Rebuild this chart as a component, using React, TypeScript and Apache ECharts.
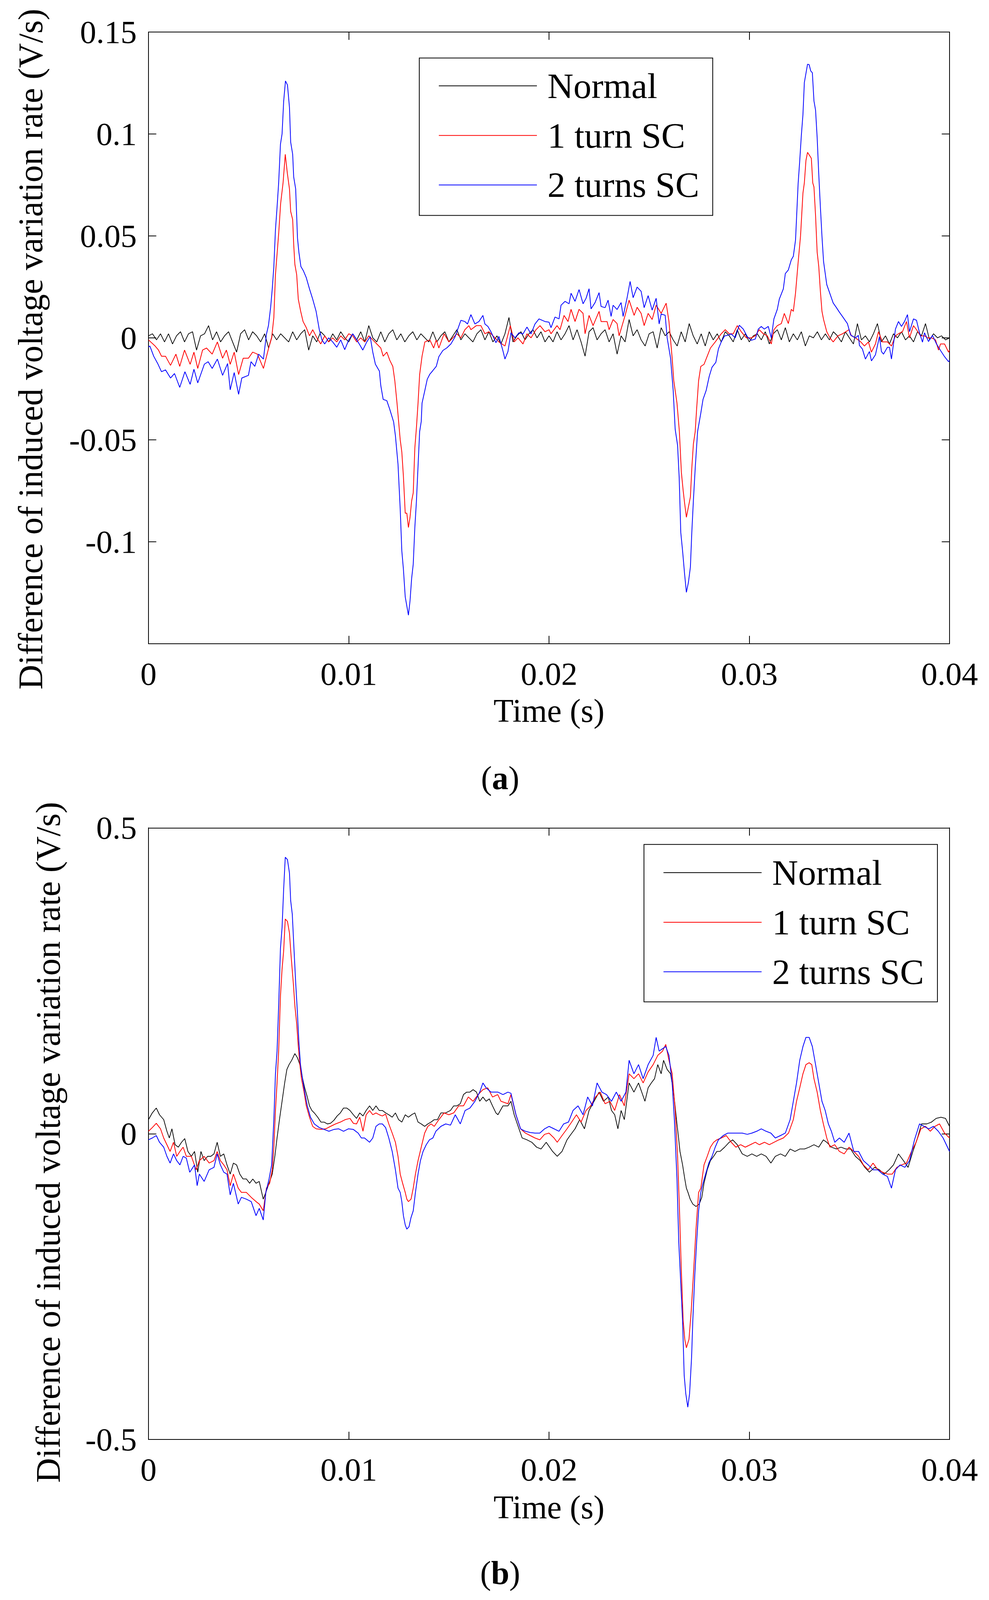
import React, { useEffect, useRef } from "react";
import * as echarts from "echarts";

const W = 2531;
const H = 4248;
const FONT = "'Liberation Serif', 'Times New Roman', serif";

const seriesNames = ["Normal", "1 turn SC", "2 turns SC"];
const seriesColors = ["#000000", "#ff0000", "#0000ff"];
const xTicks = [0, 0.01, 0.02, 0.03, 0.04];
const topYRange = [-0.15, 0.15, 0.05];
const bottomYRange = [-0.5, 0.5, 0.5];

// (a) Normal, sampled every 0.2 ms from 0 to 40 ms
const normalStepMs = 0.2;
const topNormal = [
  0.001, 0.002, -0.001, 0.002, -0.002, 0.002, -0.003, 0.001, 0.003, -0.002,
  0.002, 0.003, -0.006, 0.001, 0.002, 0.006, -0.001, 0.003, -0.002, 0.001,
  0.003, -0.002, -0.007, 0.002, 0.004, -0.001, 0.003, 0.001, -0.002, 0.002,
  -0.005, 0.002, -0.001, 0.002, 0.0, -0.002, 0.003, -0.001, 0.002, 0.004,
  -0.006, 0.001, -0.002, 0.003, 0.001, -0.002, 0.002, -0.001, 0.003, 0.0,
  -0.002, 0.002, -0.001, 0.003, -0.002, 0.006, 0.0, -0.002, 0.003, -0.002,
  0.002, 0.004, -0.001, 0.002, -0.002, 0.001, 0.003, -0.001, 0.002, 0.0,
  -0.002, 0.003, -0.002, 0.001, 0.003, -0.002, 0.001, 0.004, -0.001, 0.002,
  0.0, -0.002, 0.002, 0.004, -0.001, 0.003, -0.002, 0.001, -0.003, 0.002,
  0.01, -0.002, 0.001, 0.003, -0.001, 0.002, 0.004, 0.0, 0.003, -0.002,
  0.001, -0.002, 0.003, -0.001, 0.002, 0.006, -0.001, 0.004, -0.002, -0.009,
  0.003, 0.005, -0.001, 0.002, 0.004, -0.002, 0.002, -0.008, 0.001, -0.002,
  0.009, 0.001, 0.004, -0.001, -0.004, 0.002, 0.003, -0.005, 0.005, 0.001,
  0.003, -0.001, -0.004, 0.003, -0.002, 0.007, 0.001, -0.003, 0.002, -0.004,
  0.003, -0.001, 0.002, -0.002, 0.003, 0.001, -0.002, 0.004, -0.001, 0.002,
  -0.002, 0.001, 0.002, -0.001, 0.003, -0.003, 0.002, 0.004, -0.001, 0.005,
  -0.002, 0.002, -0.001, 0.003, -0.004, 0.001, 0.0, 0.003, -0.001, 0.002,
  -0.001, 0.003, 0.001, -0.002, 0.003, 0.0, -0.003, 0.007, -0.001, 0.001,
  -0.002, 0.002, 0.007, -0.002, 0.001, -0.003, 0.002, 0.0, 0.003, -0.001,
  0.001, -0.002, 0.003, 0.001, 0.007, -0.001, 0.002, 0.0, 0.001, -0.001,
  0.0,
];

// (a) 1 turn SC, [time ms, value]
const topOneTurn = [
  [0, -0.001], [0.33, -0.004], [0.5, -0.006], [0.65, -0.009], [0.85, -0.009], [1.1, -0.0135],
  [1.37, -0.008], [1.56, -0.014], [1.8, -0.006], [2.08, -0.013], [2.27, -0.007], [2.46, -0.015],
  [2.7, -0.006], [2.9, -0.005], [3.18, -0.008], [3.44, -0.002], [3.7, -0.01], [3.89, -0.006],
  [4.08, -0.013], [4.28, -0.007], [4.5, -0.018], [4.73, -0.01], [4.99, -0.01], [5.2, -0.007],
  [5.44, -0.008], [5.74, -0.015], [6.0, -0.005], [6.15, 0.0], [6.26, 0.01], [6.34, 0.031],
  [6.5, 0.051], [6.6, 0.066], [6.72, 0.076], [6.83, 0.09], [6.93, 0.081], [7.04, 0.073],
  [7.1, 0.062], [7.2, 0.058], [7.25, 0.046], [7.31, 0.036], [7.4, 0.031], [7.48, 0.019],
  [7.6, 0.013], [7.72, 0.008], [7.88, 0.005], [8.04, 0.001], [8.2, 0.004], [8.41, 0.0],
  [8.6, -0.003], [8.8, 0.001], [9.0, -0.002], [9.2, 0.0], [9.4, -0.002], [9.6, 0.001],
  [9.8, -0.001], [10.0, 0.002], [10.2, 0.001], [10.4, -0.002], [10.6, 0.0], [10.8, -0.002],
  [11.0, 0.001], [11.2, -0.001], [11.4, -0.003], [11.6, -0.005], [11.72, -0.009], [11.9, -0.007],
  [12.05, -0.011], [12.2, -0.014], [12.3, -0.021], [12.41, -0.032], [12.57, -0.05], [12.65, -0.056],
  [12.73, -0.068], [12.82, -0.086], [12.9, -0.086], [12.98, -0.093], [13.06, -0.088], [13.14, -0.08],
  [13.22, -0.076], [13.3, -0.054], [13.38, -0.044], [13.46, -0.032], [13.54, -0.018], [13.66, -0.009],
  [13.8, -0.002], [14.05, -0.001], [14.24, -0.005], [14.37, -0.001], [14.5, -0.005], [14.76, 0.002],
  [15.0, -0.002], [15.2, 0.0], [15.4, 0.002], [15.6, 0.0], [15.8, 0.004], [16.0, 0.006],
  [16.1, 0.004], [16.37, 0.006], [16.6, 0.006], [16.8, 0.002], [17.0, 0.003], [17.3, 0.0],
  [17.5, -0.002], [17.8, -0.004], [18.07, 0.006], [18.26, -0.002], [18.45, 0.0], [18.7, -0.003],
  [18.9, 0.002], [19.1, 0.0], [19.35, 0.004], [19.55, 0.006], [19.8, 0.003], [20.0, 0.004],
  [20.1, 0.002], [20.4, 0.006], [20.55, 0.004], [20.75, 0.011], [20.95, 0.008], [21.1, 0.014],
  [21.3, 0.008], [21.5, 0.014], [21.7, 0.012], [21.8, 0.002], [22.0, 0.011], [22.2, 0.006],
  [22.5, 0.013], [22.6, 0.008], [22.9, 0.008], [23.0, 0.004], [23.2, 0.009], [23.4, 0.007],
  [23.5, 0.001], [23.8, 0.011], [24.0, 0.0185], [24.25, 0.011], [24.4, 0.015], [24.6, 0.012],
  [24.75, 0.006], [24.95, 0.012], [25.15, 0.009], [25.35, 0.016], [25.6, 0.012], [25.85, 0.017],
  [25.99, 0.008], [26.15, -0.01], [26.23, -0.021], [26.39, -0.032], [26.51, -0.046], [26.61, -0.066],
  [26.7, -0.075], [26.77, -0.081], [26.86, -0.088], [26.96, -0.083], [27.06, -0.078], [27.13, -0.064],
  [27.21, -0.052], [27.3, -0.046], [27.37, -0.035], [27.47, -0.021], [27.58, -0.014], [27.74, -0.013],
  [27.9, -0.009], [28.06, -0.005], [28.3, -0.002], [28.6, 0.002], [28.8, 0.004], [29.0, 0.002],
  [29.2, 0.002], [29.4, 0.006], [29.6, 0.003], [29.85, 0.0], [30.1, 0.0], [30.3, 0.001],
  [30.5, 0.004], [30.7, 0.002], [30.9, 0.001], [31.1, -0.003], [31.23, 0.004], [31.4, 0.006],
  [31.6, 0.007], [31.75, 0.012], [31.95, 0.007], [32.1, 0.014], [32.2, 0.013], [32.31, 0.022],
  [32.44, 0.037], [32.56, 0.05], [32.68, 0.071], [32.75, 0.076], [32.83, 0.087], [32.91, 0.091],
  [33.04, 0.089], [33.1, 0.088], [33.17, 0.076], [33.23, 0.074], [33.31, 0.06], [33.39, 0.042],
  [33.47, 0.035], [33.55, 0.023], [33.63, 0.013], [33.71, 0.009], [33.87, 0.003], [34.03, 0.0],
  [34.19, -0.002], [34.43, 0.001], [34.66, 0.002], [34.98, 0.004], [35.1, 0.001], [35.3, 0.0],
  [35.57, -0.002], [35.75, -0.004], [35.95, -0.002], [36.1, -0.007], [36.3, -0.003], [36.45, 0.003],
  [36.65, -0.002], [36.9, -0.002], [37.1, -0.004], [37.3, 0.001], [37.45, 0.002], [37.65, 0.003],
  [37.85, 0.008], [38.0, 0.0], [38.2, 0.006], [38.35, 0.004], [38.55, 0.001], [38.75, 0.001],
  [38.9, 0.0], [39.1, 0.0], [39.3, -0.001], [39.45, -0.006], [39.55, -0.003], [39.75, -0.003],
  [39.95, -0.007], [40, -0.006],
];

// (a) 2 turns SC, [time ms, value]
const topTwoTurns = [
  [0, -0.0045], [0.07, -0.004], [0.26, -0.009], [0.46, -0.0126], [0.65, -0.0166], [0.85, -0.0157],
  [1.1, -0.0197], [1.3, -0.0175], [1.56, -0.0243], [1.82, -0.0166], [2.08, -0.0228], [2.27, -0.0154],
  [2.46, -0.0221], [2.79, -0.0129], [2.98, -0.0117], [3.18, -0.015], [3.44, -0.0104], [3.7, -0.0184],
  [3.95, -0.0126], [4.08, -0.0255], [4.28, -0.017], [4.5, -0.0277], [4.66, -0.0197], [4.99, -0.0184],
  [5.12, -0.0117], [5.31, -0.014], [5.5, -0.008], [5.74, -0.0104], [5.89, 0.0018], [5.99, 0.006],
  [6.1, 0.015], [6.18, 0.024], [6.26, 0.035], [6.34, 0.053], [6.42, 0.064], [6.5, 0.076],
  [6.59, 0.095], [6.67, 0.1], [6.75, 0.116], [6.84, 0.126], [6.94, 0.124], [7.04, 0.113],
  [7.1, 0.096], [7.2, 0.09], [7.25, 0.079], [7.35, 0.073], [7.44, 0.049], [7.51, 0.042],
  [7.61, 0.035], [7.73, 0.033], [7.88, 0.0295], [8.04, 0.024], [8.2, 0.019], [8.37, 0.013],
  [8.53, 0.004], [8.66, -0.001], [8.8, -0.003], [9.0, 0.0], [9.2, -0.002], [9.4, -0.0046],
  [9.6, -0.001], [9.8, -0.0058], [10.0, -0.001], [10.2, 0.002], [10.4, -0.001], [10.55, -0.0034],
  [10.7, -0.006], [10.9, -0.002], [11.07, 0.0006], [11.2, -0.007], [11.33, -0.0129], [11.53, -0.0163],
  [11.6, -0.0234], [11.72, -0.0302], [11.9, -0.0308], [12.05, -0.0351], [12.24, -0.0412], [12.33, -0.048],
  [12.46, -0.062], [12.57, -0.084], [12.65, -0.1045], [12.73, -0.1135], [12.82, -0.127], [12.9, -0.1315],
  [12.98, -0.136], [13.06, -0.129], [13.14, -0.118], [13.22, -0.111], [13.3, -0.093], [13.38, -0.08],
  [13.46, -0.063], [13.54, -0.046], [13.62, -0.041], [13.66, -0.032], [13.8, -0.0258], [13.92, -0.0203],
  [14.05, -0.0178], [14.18, -0.0163], [14.37, -0.014], [14.5, -0.0092], [14.7, -0.0062], [14.9, -0.0049],
  [15.1, -0.003], [15.3, 0.0003], [15.6, 0.0086], [15.8, 0.008], [15.93, 0.0068], [16.1, 0.0114],
  [16.3, 0.0068], [16.5, 0.008], [16.7, 0.011], [16.8, 0.0068], [16.95, 0.0056], [17.1, 0.003],
  [17.35, -0.0024], [17.5, 0.0007], [17.7, -0.0064], [17.8, -0.0104], [17.95, -0.0067], [18.1, 0.0025],
  [18.3, 0.0], [18.5, 0.0025], [18.7, 0.0019], [18.9, 0.0053], [19.1, 0.0019], [19.3, 0.0068],
  [19.5, 0.0093], [19.8, 0.008], [20.0, 0.0077], [20.1, 0.005], [20.3, 0.0102], [20.5, 0.0093],
  [20.6, 0.016], [20.8, 0.0179], [21.0, 0.0167], [21.1, 0.0219], [21.3, 0.0179], [21.5, 0.0237],
  [21.7, 0.0167], [21.85, 0.0194], [22.0, 0.0241], [22.1, 0.0142], [22.3, 0.0173], [22.5, 0.0222],
  [22.6, 0.0154], [22.8, 0.0148], [22.95, 0.0185], [23.1, 0.0105], [23.2, 0.016], [23.4, 0.0139],
  [23.6, 0.0173], [23.7, 0.0105], [23.9, 0.0197], [24.05, 0.0277], [24.2, 0.0197], [24.4, 0.0249],
  [24.6, 0.0228], [24.75, 0.0148], [24.95, 0.0207], [25.15, 0.0136], [25.35, 0.0194], [25.5, 0.0068],
  [25.6, 0.0117], [25.8, 0.0111], [25.9, 0.0], [26.07, -0.01], [26.2, -0.0257], [26.3, -0.0448],
  [26.42, -0.0527], [26.5, -0.0685], [26.58, -0.0955], [26.67, -0.1045], [26.77, -0.1158], [26.86, -0.1248],
  [26.96, -0.12], [27.06, -0.1124], [27.13, -0.0955], [27.21, -0.0797], [27.3, -0.064], [27.42, -0.0459],
  [27.58, -0.0369], [27.69, -0.0302], [27.85, -0.0257], [28.0, -0.0189], [28.14, -0.0144], [28.33, -0.012],
  [28.46, -0.0054], [28.6, -0.002], [28.77, 0.001], [28.9, 0.0012], [29.1, 0.0019], [29.3, 0.0],
  [29.5, 0.0062], [29.7, 0.0043], [29.9, 0.0006], [30.1, -0.0012], [30.3, -0.0006], [30.45, 0.0043],
  [30.6, 0.0056], [30.75, 0.0043], [30.95, 0.0056], [31.1, 0.0], [31.23, 0.0093], [31.4, 0.014],
  [31.5, 0.019], [31.7, 0.024], [31.8, 0.0315], [31.95, 0.0333], [32.1, 0.0383], [32.2, 0.04],
  [32.31, 0.048], [32.44, 0.0757], [32.52, 0.0869], [32.6, 0.0993], [32.68, 0.1095], [32.75, 0.1252],
  [32.83, 0.1297], [32.91, 0.1342], [32.99, 0.134], [33.07, 0.1309], [33.15, 0.13], [33.23, 0.1162],
  [33.31, 0.1117], [33.39, 0.0982], [33.47, 0.0802], [33.55, 0.0644], [33.63, 0.0498], [33.71, 0.0374],
  [33.87, 0.0261], [34.03, 0.0216], [34.19, 0.0171], [34.34, 0.015], [34.5, 0.0126], [34.66, 0.0104],
  [34.9, 0.007], [35.06, 0.0014], [35.3, 0.0], [35.45, 0.0012], [35.5, -0.0037], [35.65, -0.0055],
  [35.8, -0.0104], [36.0, -0.0067], [36.1, -0.0113], [36.3, -0.0083], [36.5, 0.0006], [36.6, -0.0067],
  [36.7, -0.008], [36.9, -0.0046], [37.0, -0.0046], [37.1, -0.0104], [37.3, 0.0043], [37.45, 0.008],
  [37.6, 0.0056], [37.75, 0.008], [37.9, 0.0114], [38.0, 0.003], [38.2, 0.0093], [38.35, 0.0086],
  [38.5, 0.0025], [38.65, -0.0021], [38.75, 0.0025], [38.95, -0.0018], [39.15, 0.0012], [39.35, -0.003],
  [39.55, -0.0062], [39.75, -0.0092], [39.95, -0.0117], [40, -0.011],
];

// (b) Normal, [time ms, value]
const bottomNormal = [
  [0, 0.023], [0.19, 0.034], [0.39, 0.042], [0.55, 0.031], [0.76, 0.023], [0.92, 0.004],
  [1.04, -0.007], [1.17, 0.008], [1.33, -0.018], [1.49, -0.022], [1.65, -0.014], [1.81, -0.008],
  [1.97, -0.029], [2.14, -0.037], [2.3, -0.029], [2.46, -0.063], [2.62, -0.029], [2.78, -0.044],
  [2.95, -0.037], [3.11, -0.037], [3.27, -0.033], [3.43, -0.014], [3.59, -0.037], [3.76, -0.033],
  [3.92, -0.051], [4.08, -0.066], [4.24, -0.048], [4.4, -0.051], [4.56, -0.066], [4.72, -0.074],
  [4.89, -0.074], [5.05, -0.081], [5.21, -0.074], [5.37, -0.081], [5.53, -0.078], [5.73, -0.107],
  [5.86, -0.096], [6.02, -0.081], [6.18, -0.066], [6.31, -0.037], [6.42, -0.007], [6.54, 0.023],
  [6.67, 0.053], [6.8, 0.083], [6.91, 0.105], [7.02, 0.113], [7.15, 0.12], [7.31, 0.131],
  [7.44, 0.124], [7.56, 0.113], [7.67, 0.094], [7.8, 0.075], [7.93, 0.06], [8.04, 0.0455],
  [8.16, 0.038], [8.28, 0.034], [8.45, 0.027], [8.61, 0.019], [8.77, 0.019], [8.93, 0.016],
  [9.09, 0.017], [9.26, 0.022], [9.42, 0.029], [9.58, 0.034], [9.74, 0.042], [9.9, 0.042],
  [10.06, 0.038], [10.23, 0.031], [10.39, 0.025], [10.55, 0.034], [10.71, 0.029], [10.87, 0.038],
  [11.04, 0.0455], [11.2, 0.038], [11.36, 0.0455], [11.52, 0.038], [11.68, 0.038], [11.84, 0.034],
  [12.0, 0.031], [12.17, 0.027], [12.33, 0.034], [12.49, 0.023], [12.65, 0.019], [12.82, 0.031],
  [12.98, 0.027], [13.14, 0.031], [13.3, 0.034], [13.46, 0.019], [13.62, 0.016], [13.79, 0.012],
  [13.95, 0.016], [14.11, 0.019], [14.27, 0.023], [14.43, 0.023], [14.6, 0.034], [14.84, 0.034],
  [15.08, 0.038], [15.24, 0.0455], [15.4, 0.0455], [15.57, 0.049], [15.73, 0.064], [15.89, 0.068],
  [16.05, 0.068], [16.21, 0.072], [16.38, 0.068], [16.54, 0.053], [16.7, 0.06], [16.86, 0.053],
  [17.02, 0.057], [17.18, 0.0455], [17.35, 0.034], [17.45, 0.031], [17.7, 0.0455], [17.95, 0.0455],
  [18.1, 0.053], [18.26, 0.031], [18.5, 0.008], [18.66, -0.007], [18.9, -0.01], [19.14, -0.014],
  [19.38, -0.022], [19.6, -0.025], [19.86, -0.014], [20.18, -0.029], [20.41, -0.037], [20.65, -0.029],
  [20.9, -0.01], [21.05, -0.003], [21.3, 0.008], [21.53, 0.023], [21.77, 0.008], [22.0, 0.038],
  [22.25, 0.053], [22.5, 0.068], [22.72, 0.053], [22.96, 0.06], [23.12, 0.038], [23.28, 0.031],
  [23.44, 0.008], [23.6, 0.038], [23.76, 0.023], [24.0, 0.083], [24.24, 0.068], [24.47, 0.083],
  [24.63, 0.068], [24.79, 0.053], [24.95, 0.075], [25.11, 0.083], [25.27, 0.09], [25.43, 0.113],
  [25.6, 0.098], [25.72, 0.12], [25.9, 0.105], [26.07, 0.098], [26.22, 0.068], [26.39, 0.016],
  [26.47, -0.007], [26.54, -0.029], [26.67, -0.051], [26.78, -0.074], [26.86, -0.089], [26.94, -0.096],
  [27.05, -0.107], [27.18, -0.115], [27.34, -0.119], [27.5, -0.115], [27.63, -0.104], [27.74, -0.081],
  [27.9, -0.059], [28.06, -0.044], [28.22, -0.037], [28.38, -0.029], [28.54, -0.029], [28.77, -0.022],
  [29.0, -0.014], [29.17, -0.01], [29.4, -0.018], [29.65, -0.033], [29.9, -0.037], [30.13, -0.033],
  [30.37, -0.037], [30.6, -0.033], [30.84, -0.037], [31.08, -0.048], [31.3, -0.037], [31.56, -0.033],
  [31.8, -0.037], [32.04, -0.025], [32.28, -0.029], [32.52, -0.025], [32.76, -0.025], [32.99, -0.022],
  [33.23, -0.018], [33.47, -0.022], [33.7, -0.01], [33.87, -0.014], [34.1, -0.022], [34.35, -0.025],
  [34.58, -0.022], [34.82, -0.025], [35.06, -0.025], [35.3, -0.037], [35.54, -0.044], [35.77, -0.055],
  [36.0, -0.063], [36.26, -0.055], [36.5, -0.059], [36.74, -0.066], [36.98, -0.059], [37.2, -0.051],
  [37.45, -0.033], [37.7, -0.044], [37.93, -0.055], [38.17, -0.029], [38.4, -0.007], [38.6, 0.016],
  [38.86, 0.016], [39.1, 0.019], [39.33, 0.025], [39.57, 0.027], [39.8, 0.025], [40, 0.012],
];

// (b) 1 turn SC, [time ms, value]
const bottomOneTurn = [
  [0, 0.004], [0.19, 0.01], [0.39, 0.017], [0.6, 0.008], [0.76, -0.007], [0.92, -0.018],
  [1.08, -0.029], [1.25, -0.014], [1.41, -0.037], [1.57, -0.029], [1.73, -0.022], [1.89, -0.037],
  [2.14, -0.037], [2.38, -0.059], [2.54, -0.044], [2.78, -0.037], [3.03, -0.048], [3.27, -0.044],
  [3.43, -0.029], [3.59, -0.044], [3.76, -0.051], [3.92, -0.059], [4.08, -0.085], [4.24, -0.066],
  [4.48, -0.089], [4.64, -0.096], [4.89, -0.096], [5.13, -0.104], [5.37, -0.111], [5.53, -0.115],
  [5.73, -0.126], [5.89, -0.089], [6.05, -0.081], [6.18, -0.059], [6.26, -0.022], [6.34, 0.038],
  [6.42, 0.083], [6.5, 0.135], [6.59, 0.225], [6.67, 0.269], [6.75, 0.299], [6.83, 0.351],
  [6.94, 0.347], [7.04, 0.328], [7.12, 0.291], [7.23, 0.247], [7.31, 0.209], [7.4, 0.18],
  [7.48, 0.143], [7.56, 0.113], [7.64, 0.09], [7.77, 0.068], [7.88, 0.0455], [8.04, 0.027],
  [8.2, 0.012], [8.37, 0.008], [8.61, 0.007], [8.85, 0.008], [9.09, 0.012], [9.34, 0.016],
  [9.58, 0.019], [9.82, 0.023], [10.06, 0.025], [10.23, 0.017], [10.39, 0.016], [10.55, 0.027],
  [10.71, 0.004], [10.87, 0.031], [11.04, 0.038], [11.2, 0.031], [11.36, 0.034], [11.52, 0.031],
  [11.68, 0.029], [11.84, 0.032], [12.0, 0.016], [12.17, 0.001], [12.33, -0.014], [12.46, -0.037],
  [12.57, -0.066], [12.69, -0.081], [12.82, -0.096], [12.9, -0.107], [12.98, -0.111], [13.11, -0.107],
  [13.22, -0.089], [13.33, -0.066], [13.46, -0.044], [13.62, -0.022], [13.79, 0.001], [13.95, 0.012],
  [14.11, 0.016], [14.27, 0.012], [14.5, 0.023], [14.76, 0.034], [15.0, 0.031], [15.24, 0.034],
  [15.49, 0.0455], [15.73, 0.0455], [15.97, 0.06], [16.21, 0.053], [16.46, 0.064], [16.7, 0.072],
  [16.94, 0.075], [17.18, 0.06], [17.44, 0.064], [17.6, 0.053], [17.95, 0.049], [18.1, 0.064],
  [18.35, 0.031], [18.58, 0.008], [18.82, 0.001], [19.06, -0.003], [19.3, -0.007], [19.54, -0.01],
  [19.78, -0.001], [20.0, 0.001], [20.25, -0.007], [20.41, -0.014], [20.65, -0.003], [20.9, 0.008],
  [21.13, 0.019], [21.37, 0.031], [21.6, 0.019], [21.85, 0.038], [22.08, 0.0455], [22.32, 0.06],
  [22.56, 0.068], [22.8, 0.049], [23.04, 0.053], [23.28, 0.038], [23.52, 0.064], [23.76, 0.0455],
  [24.0, 0.098], [24.24, 0.09], [24.47, 0.098], [24.7, 0.083], [24.95, 0.101], [25.2, 0.113],
  [25.43, 0.128], [25.67, 0.135], [25.83, 0.146], [25.99, 0.12], [26.15, 0.098], [26.3, 0.038],
  [26.42, -0.037], [26.51, -0.119], [26.6, -0.216], [26.7, -0.306], [26.78, -0.336], [26.86, -0.35],
  [26.99, -0.336], [27.1, -0.29], [27.21, -0.231], [27.34, -0.156], [27.47, -0.096], [27.58, -0.089],
  [27.74, -0.051], [27.9, -0.037], [28.06, -0.022], [28.22, -0.014], [28.38, -0.01], [28.6, -0.007],
  [28.85, -0.003], [29.1, -0.014], [29.33, -0.022], [29.57, -0.018], [29.8, -0.022], [30.05, -0.018],
  [30.3, -0.014], [30.5, -0.018], [30.76, -0.014], [31.0, -0.018], [31.24, -0.014], [31.48, -0.01],
  [31.7, -0.007], [31.96, 0.001], [32.2, 0.023], [32.36, 0.053], [32.52, 0.075], [32.68, 0.098],
  [32.83, 0.113], [32.99, 0.116], [33.12, 0.113], [33.23, 0.09], [33.39, 0.068], [33.55, 0.038],
  [33.7, 0.016], [33.87, -0.007], [34.03, -0.022], [34.27, -0.018], [34.5, -0.029], [34.74, -0.033],
  [34.98, -0.022], [35.22, -0.029], [35.46, -0.037], [35.7, -0.051], [35.94, -0.059], [36.18, -0.048],
  [36.42, -0.059], [36.66, -0.063], [36.9, -0.066], [37.14, -0.066], [37.37, -0.055], [37.6, -0.051],
  [37.85, -0.048], [38.1, -0.029], [38.33, -0.014], [38.57, 0.008], [38.8, 0.012], [39.04, 0.004],
  [39.27, 0.012], [39.5, 0.016], [39.75, 0.001], [40, -0.007],
];

// (b) 2 turns SC, [time ms, value]
const bottomTwoTurns = [
  [0, -0.01], [0.19, -0.007], [0.39, -0.003], [0.55, -0.014], [0.76, -0.022], [0.92, -0.037],
  [1.08, -0.048], [1.25, -0.033], [1.41, -0.044], [1.57, -0.051], [1.73, -0.037], [1.89, -0.04],
  [2.06, -0.063], [2.3, -0.051], [2.43, -0.085], [2.54, -0.066], [2.78, -0.078], [3.03, -0.059],
  [3.27, -0.055], [3.43, -0.033], [3.59, -0.051], [3.76, -0.063], [3.92, -0.066], [4.08, -0.1],
  [4.24, -0.081], [4.48, -0.115], [4.64, -0.104], [4.89, -0.107], [5.13, -0.111], [5.37, -0.134],
  [5.53, -0.122], [5.73, -0.141], [5.86, -0.096], [6.02, -0.074], [6.15, -0.051], [6.26, 0.023],
  [6.34, 0.098], [6.42, 0.135], [6.5, 0.209], [6.59, 0.303], [6.67, 0.337], [6.75, 0.4],
  [6.83, 0.452], [6.94, 0.448], [7.04, 0.426], [7.1, 0.381], [7.18, 0.359], [7.27, 0.299],
  [7.35, 0.247], [7.43, 0.202], [7.51, 0.15], [7.59, 0.113], [7.69, 0.09], [7.8, 0.068],
  [7.93, 0.0455], [8.09, 0.027], [8.28, 0.016], [8.53, 0.01], [8.77, 0.007], [9.01, 0.004],
  [9.26, 0.007], [9.5, 0.008], [9.74, 0.004], [9.98, 0.008], [10.23, 0.007], [10.47, 0.001],
  [10.63, -0.007], [10.79, -0.007], [11.04, -0.014], [11.2, -0.007], [11.36, 0.012], [11.52, 0.016],
  [11.68, 0.016], [11.84, 0.01], [12.0, -0.007], [12.17, -0.029], [12.33, -0.059], [12.46, -0.089],
  [12.57, -0.096], [12.65, -0.111], [12.73, -0.134], [12.82, -0.149], [12.9, -0.156], [13.01, -0.152],
  [13.11, -0.137], [13.22, -0.126], [13.33, -0.096], [13.46, -0.066], [13.58, -0.044], [13.71, -0.029],
  [13.87, -0.018], [14.03, -0.01], [14.2, -0.007], [14.35, 0.004], [14.6, 0.012], [14.84, 0.016],
  [15.08, 0.014], [15.32, 0.031], [15.57, 0.016], [15.81, 0.038], [16.05, 0.042], [16.3, 0.053],
  [16.54, 0.068], [16.7, 0.083], [16.86, 0.075], [17.1, 0.068], [17.23, 0.068], [17.45, 0.068],
  [17.7, 0.064], [17.95, 0.068], [18.1, 0.066], [18.35, 0.031], [18.58, 0.008], [18.82, 0.004],
  [19.06, 0.002], [19.3, 0.001], [19.54, 0.001], [19.78, 0.008], [20.0, 0.012], [20.25, 0.008],
  [20.5, 0.004], [20.73, 0.016], [20.97, 0.019], [21.2, 0.038], [21.45, 0.0455], [21.7, 0.031],
  [21.93, 0.06], [22.17, 0.0455], [22.4, 0.083], [22.64, 0.068], [22.87, 0.064], [23.12, 0.053],
  [23.36, 0.068], [23.6, 0.053], [23.84, 0.068], [24.0, 0.12], [24.24, 0.098], [24.47, 0.113],
  [24.7, 0.09], [24.95, 0.113], [25.2, 0.128], [25.35, 0.1575], [25.5, 0.135], [25.67, 0.139],
  [25.83, 0.1425], [25.99, 0.128], [26.15, 0.083], [26.26, 0.023], [26.39, -0.074], [26.48, -0.178],
  [26.58, -0.245], [26.67, -0.306], [26.75, -0.395], [26.83, -0.425], [26.93, -0.447], [27.02, -0.425],
  [27.12, -0.365], [27.18, -0.306], [27.28, -0.231], [27.37, -0.178], [27.47, -0.126], [27.58, -0.096],
  [27.69, -0.081], [27.82, -0.066], [27.98, -0.048], [28.14, -0.037], [28.3, -0.022], [28.46, -0.01],
  [28.7, -0.003], [28.93, 0.001], [29.17, 0.001], [29.4, 0.001], [29.65, 0.001], [29.9, -0.001],
  [30.13, 0.001], [30.37, 0.004], [30.6, 0.008], [30.84, 0.004], [31.08, 0.001], [31.3, -0.007],
  [31.56, -0.003], [31.8, 0.001], [32.04, 0.023], [32.2, 0.053], [32.36, 0.083], [32.52, 0.12],
  [32.68, 0.1425], [32.83, 0.1575], [32.99, 0.1575], [33.15, 0.1425], [33.31, 0.113], [33.47, 0.083],
  [33.63, 0.053], [33.79, 0.038], [33.95, 0.016], [34.1, 0.004], [34.27, -0.014], [34.5, -0.007],
  [34.74, -0.014], [34.98, 0.001], [35.22, -0.029], [35.46, -0.029], [35.7, -0.044], [35.94, -0.051],
  [36.18, -0.059], [36.42, -0.059], [36.66, -0.066], [36.9, -0.07], [37.1, -0.089], [37.3, -0.059],
  [37.53, -0.051], [37.77, -0.055], [38.0, -0.044], [38.25, -0.01], [38.5, 0.016], [38.73, 0.012],
  [38.96, 0.008], [39.2, 0.012], [39.44, 0.004], [39.68, -0.007], [40, -0.029],
];

const msToS = (pts: number[][]) => pts.map(([t, v]) => [t / 1000, v]);
const gridMs = (vals: number[], stepMs: number) => vals.map((v, i) => [(i * stepMs) / 1000, v]);

const fmt = (v: number) => String(parseFloat(v.toFixed(4)));

function buildOption(sx: number, sy: number) {
  const X = (v: number) => v * sx;
  const Y = (v: number) => v * sy;
  const grids = [
    { left: X(380), top: Y(85), width: X(2050), height: Y(1624) },
    { left: X(380), top: Y(2198), width: X(2050), height: Y(1624) },
  ];
  const lineStyle = { color: "#000", width: 2 };
  const tickStyle = { show: true, inside: true, length: 20, lineStyle: { color: "#000", width: 2 } };
  const xAxes: any[] = [];
  const yAxes: any[] = [];
  const yRanges = [topYRange, bottomYRange];
  for (let g = 0; g < 2; g++) {
    xAxes.push({
      gridIndex: g, type: "value", position: "bottom",
      min: xTicks[0], max: xTicks[xTicks.length - 1], interval: xTicks[1] - xTicks[0],
      axisLine: { show: true, onZero: false, lineStyle },
      axisTick: tickStyle, splitLine: { show: false },
      axisLabel: { show: true, fontSize: 83, fontFamily: FONT, color: "#000", margin: Y(37), formatter: fmt },
      name: "Time (s)", nameLocation: "middle", nameGap: Y(g === 0 ? 134 : 136),
      nameTextStyle: { fontSize: 84, fontFamily: FONT, color: "#000" },
    });
    xAxes.push({
      gridIndex: g, type: "value", position: "top",
      min: xTicks[0], max: xTicks[xTicks.length - 1], interval: xTicks[1] - xTicks[0],
      axisLine: { show: true, onZero: false, lineStyle },
      axisTick: tickStyle, splitLine: { show: false }, axisLabel: { show: false },
    });
    const [ymin, ymax, yint] = yRanges[g];
    yAxes.push({
      gridIndex: g, type: "value", position: "left", min: ymin, max: ymax, interval: yint,
      axisLine: { show: true, onZero: false, lineStyle },
      axisTick: tickStyle, splitLine: { show: false },
      axisLabel: {
        show: true, fontSize: 83, fontFamily: FONT, color: "#000", margin: X(30),
        formatter: fmt, showMinLabel: g === 0 ? false : true,
      },
    });
    yAxes.push({
      gridIndex: g, type: "value", position: "right", min: ymin, max: ymax, interval: yint,
      axisLine: { show: true, onZero: false, lineStyle },
      axisTick: tickStyle, splitLine: { show: false }, axisLabel: { show: false },
    });
  }

  const panels = [
    [gridMs(topNormal, normalStepMs), msToS(topOneTurn), msToS(topTwoTurns)],
    [msToS(bottomNormal), msToS(bottomOneTurn), msToS(bottomTwoTurns)],
  ];
  const series: any[] = [];
  panels.forEach((panel, g) => {
    panel.forEach((data, k) => {
      series.push({
        type: "line", name: seriesNames[k], data,
        xAxisIndex: g * 2, yAxisIndex: g * 2,
        symbol: "none", showSymbol: false, silent: true,
        lineStyle: { color: seriesColors[k], width: k === 0 ? 1.8 : 2 },
        itemStyle: { color: seriesColors[k] },
        z: 2 + k,
      });
    });
  });

  const legendBoxes = [
    { x: 1073, y: 154, lineX: 1123, firstRowY: 228 },
    { x: 1648, y: 2242, lineX: 1698, firstRowY: 2317 },
  ];
  const rowH = 100;
  const legends = legendBoxes.map((b) => ({
    orient: "vertical", left: X(b.lineX), top: Y(b.firstRowY) - rowH / 2,
    itemWidth: X(251), itemHeight: 2, itemGap: Y(131.5) - rowH, padding: 0,
    selectedMode: false, z: 10, icon: "rect",
    data: seriesNames,
    textStyle: { fontSize: 92, fontFamily: FONT, color: "#000", lineHeight: rowH, padding: [0, 0, 0, 22] },
  }));

  const rich = {
    n: { fontSize: 84, fontFamily: FONT, fill: "#000" },
    b: { fontSize: 84, fontFamily: FONT, fontWeight: "bold", fill: "#000" },
  };
  const yTitle = "Difference of induced voltage variation rate (V/s)";
  const graphic: any[] = [
    ...legendBoxes.map((b) => ({
      type: "rect", z: 5, silent: true,
      shape: { x: X(b.x), y: Y(b.y), width: X(751), height: Y(418) },
      style: { fill: "#ffffff", stroke: "#000", lineWidth: 2 },
    })),
    {
      type: "text", x: X(78), y: Y(927), rotation: Math.PI / 2, silent: true,
      style: { text: yTitle, fontSize: 88, fontFamily: FONT, fill: "#000", align: "center", verticalAlign: "middle" },
    },
    {
      type: "text", x: X(123), y: Y(3033), rotation: Math.PI / 2, silent: true,
      style: { text: yTitle, fontSize: 88, fontFamily: FONT, fill: "#000", align: "center", verticalAlign: "middle" },
    },
    {
      type: "text", x: X(1280), y: Y(2065), silent: true,
      style: { text: "{n|(}{b|a}{n|)}", align: "center", verticalAlign: "middle", rich },
    },
    {
      type: "text", x: X(1280), y: Y(4176), silent: true,
      style: { text: "{n|(}{b|b}{n|)}", align: "center", verticalAlign: "middle", rich },
    },
  ];

  return {
    animation: false,
    backgroundColor: "#ffffff",
    grid: grids,
    xAxis: xAxes,
    yAxis: yAxes,
    legend: legends,
    series,
    graphic,
  };
}

export default function App() {
  const ref = useRef<HTMLDivElement>(null);
  useEffect(() => {
    const el = ref.current;
    if (!el) return;
    const w = el.clientWidth || W;
    const h = el.clientHeight || H;
    const chart = echarts.init(el, undefined, { renderer: "svg", width: w, height: h });
    chart.setOption(buildOption(w / W, h / H) as any);
    return () => chart.dispose();
  }, []);
  return (
    <div
      ref={ref}
      style={{
        position: "absolute", left: 0, top: 0,
        width: "100vw", height: "100vh", maxWidth: W, maxHeight: H,
        overflow: "hidden", background: "#fff",
      }}
    />
  );
}
